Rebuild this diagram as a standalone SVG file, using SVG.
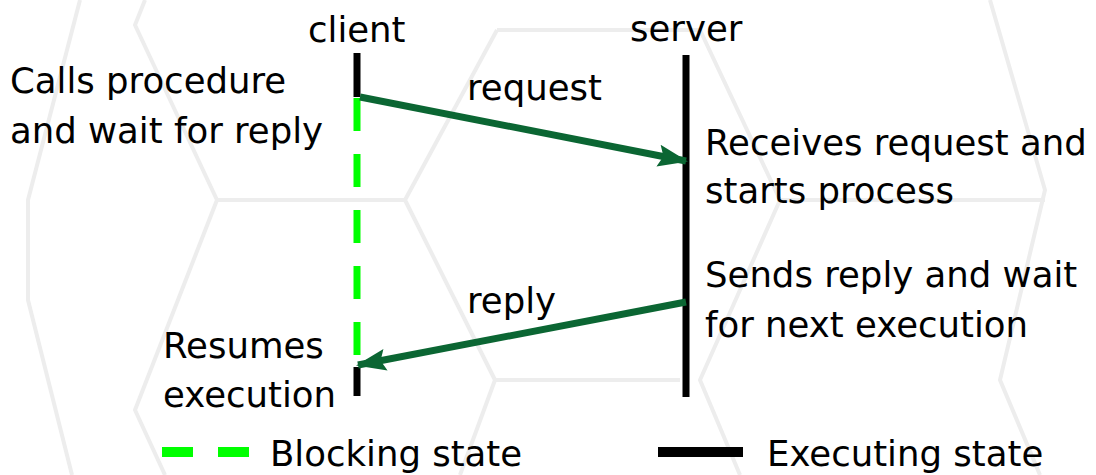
<svg xmlns="http://www.w3.org/2000/svg" width="1096" height="475" viewBox="0 0 1096 475">
  <defs>
    <style>
      text { font-family: "DejaVu Sans", Verdana, sans-serif; font-size: 35.5px; fill: #000; }
      .hex { fill: none; stroke: #ededed; stroke-width: 4; stroke-linejoin: round; }
      .exec { stroke: #000; stroke-width: 7; }
      .block { stroke: #00ff00; stroke-width: 7; }
      .msg { stroke: #0b6633; stroke-width: 7; fill: none; }
      .legend-line { stroke-width: 10; }
    </style>
    <marker id="arrow" markerUnits="userSpaceOnUse" markerWidth="32" markerHeight="26" refX="28" refY="13" orient="auto">
      <path d="M0,2 L30,13 L0,24 L5,13 Z" fill="#0b6633"/>
    </marker>
  </defs>

  <rect width="1096" height="475" fill="#fff"/>

  <!-- faint honeycomb backdrop -->
  <g id="backdrop">
    <polyline class="hex" points="80,0 28,200 28,300 72,475"/>
    <polyline class="hex" points="145,0 135,25 217,200 135,410 165,475"/>
    <line class="hex" x1="217" y1="200" x2="405" y2="200"/>
    <polyline class="hex" points="497,30 405,200 495,380 460,475"/>
    <line class="hex" x1="497" y1="30" x2="700" y2="30"/>
    <line class="hex" x1="495" y1="380" x2="680" y2="380"/>
    <polyline class="hex" points="990,0 1045,190 1000,380 1040,475"/>
    <polyline class="hex" points="700,30 780,200 700,380 740,475"/>
    <line class="hex" x1="780" y1="200" x2="1045" y2="200"/>
  </g>

  <!-- client timeline -->
  <g id="client">
    <text x="308" y="42">client</text>
    <line class="exec" x1="357" y1="53" x2="357" y2="97"/>
    <line class="block" x1="357" y1="98" x2="357" y2="356" stroke-dasharray="33,23"/>
    <line class="exec" x1="357" y1="367" x2="357" y2="396"/>
  </g>

  <!-- server timeline -->
  <g id="server">
    <text x="630" y="41">server</text>
    <line class="exec" x1="686" y1="55" x2="686" y2="397"/>
  </g>

  <!-- annotations beside the timelines -->
  <g id="client-notes">
    <text x="10" y="93">Calls procedure</text>
    <text x="10" y="143">and wait for reply</text>
    <text x="163" y="358">Resumes</text>
    <text x="163" y="407">execution</text>
  </g>
  <g id="server-notes">
    <text x="705" y="155">Receives request and</text>
    <text x="705" y="203">starts process</text>
    <text x="705" y="287">Sends reply and wait</text>
    <text x="705" y="337">for next execution</text>
  </g>

  <!-- messages -->
  <g id="connectors">
    <line class="msg" x1="360" y1="97" x2="686" y2="161" marker-end="url(#arrow)"/>
    <text x="467" y="100">request</text>
    <line class="msg" x1="686" y1="302" x2="358" y2="365" marker-end="url(#arrow)"/>
    <text x="467" y="313">reply</text>
  </g>

  <!-- legend -->
  <g id="legend">
    <line class="block legend-line" x1="162" y1="452" x2="250" y2="452" stroke-dasharray="31,25"/>
    <text x="270" y="466">Blocking state</text>
    <line class="exec legend-line" x1="658" y1="452" x2="743" y2="452"/>
    <text x="767" y="466">Executing state</text>
  </g>
</svg>
